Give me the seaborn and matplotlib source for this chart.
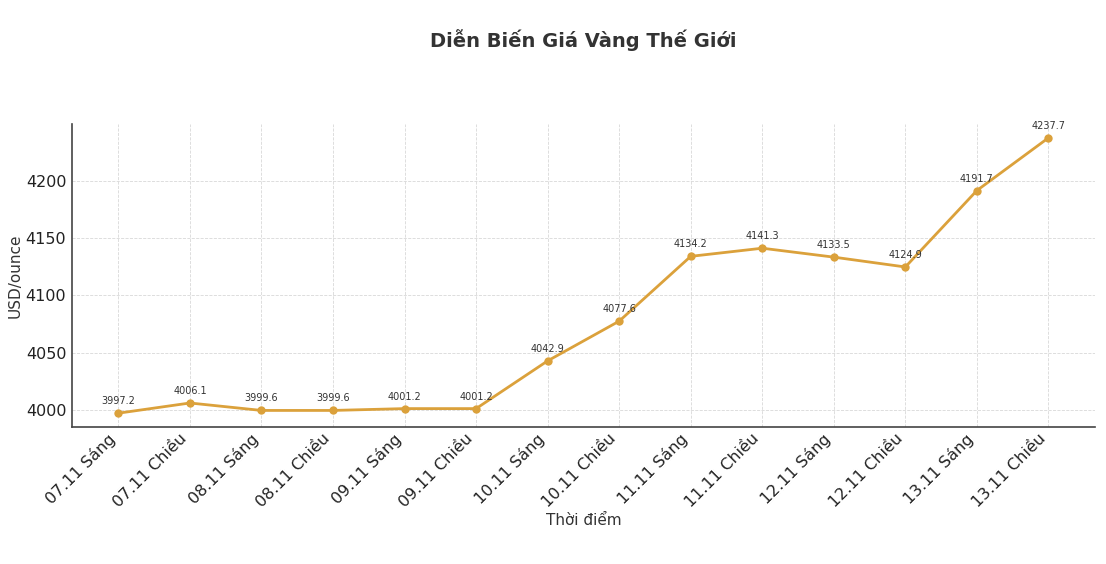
import matplotlib
matplotlib.use("Agg")
import matplotlib.pyplot as plt
import seaborn as sns
import pandas as pd

times = ["07.11 Sáng", "07.11 Chiều", "08.11 Sáng", "08.11 Chiều", "09.11 Sáng",
         "09.11 Chiều", "10.11 Sáng", "10.11 Chiều", "11.11 Sáng", "11.11 Chiều",
         "12.11 Sáng", "12.11 Chiều", "13.11 Sáng", "13.11 Chiều"]
prices = [3997.2, 4006.1, 3999.6, 3999.6, 4001.2, 4001.2, 4042.9, 4077.6,
          4134.2, 4141.3, 4133.5, 4124.9, 4191.7, 4237.7]
y_ticks = [4000, 4050, 4100, 4150, 4200]

sns.set_theme(style="white")
plt.rcParams['font.family'] = ['DejaVu Sans']

df = pd.DataFrame({"Thời điểm": times, "Giá": prices})
df["pos"] = range(len(df))

fig = plt.figure(figsize=(11.06, 5.64), dpi=100)
ax = fig.add_axes([0.065, 0.243, 0.925, 0.537])

color = "#DBA13B"
sns.lineplot(data=df, x="pos", y="Giá", ax=ax, color=color, linewidth=2,
             marker="o", markersize=6, markeredgewidth=0, zorder=3)

for i, v in enumerate(prices):
    ax.annotate(f"{v:.1f}", (i, v), xytext=(0, 5), textcoords="offset points",
                ha="center", va="bottom", fontsize=7, color="#333333")

ax.set_xticks(range(len(times)))
ax.set_xticklabels(times, rotation=45, ha="right", fontsize=11.5, color="#222222")
ax.set_yticks(y_ticks)
ax.set_yticklabels([str(t) for t in y_ticks], fontsize=11.5, color="#222222")
ax.tick_params(axis="x", direction="in", length=6, width=1, color="#444444", pad=3)
ax.tick_params(axis="y", length=0, pad=4)

ax.grid(True, linestyle="--", linewidth=0.6, color="#d8d8d8")
ax.set_axisbelow(True)

for s in ["top", "right"]:
    ax.spines[s].set_visible(False)
for s in ["left", "bottom"]:
    ax.spines[s].set_color("#444444")
    ax.spines[s].set_linewidth(1.2)

ax.margins(x=0.05, y=0.05)
ax.set_xlabel("Thời điểm", fontsize=11, color="#333333", labelpad=2)
ax.set_ylabel("USD/ounce", fontsize=11, color="#333333", labelpad=2)

fig.text(0.527, 0.929, "Diễn Biến Giá Vàng Thế Giới", ha="center", va="center",
         fontsize=14, fontweight="bold", color="#333333")

fig.savefig("out.png", dpi=100)
